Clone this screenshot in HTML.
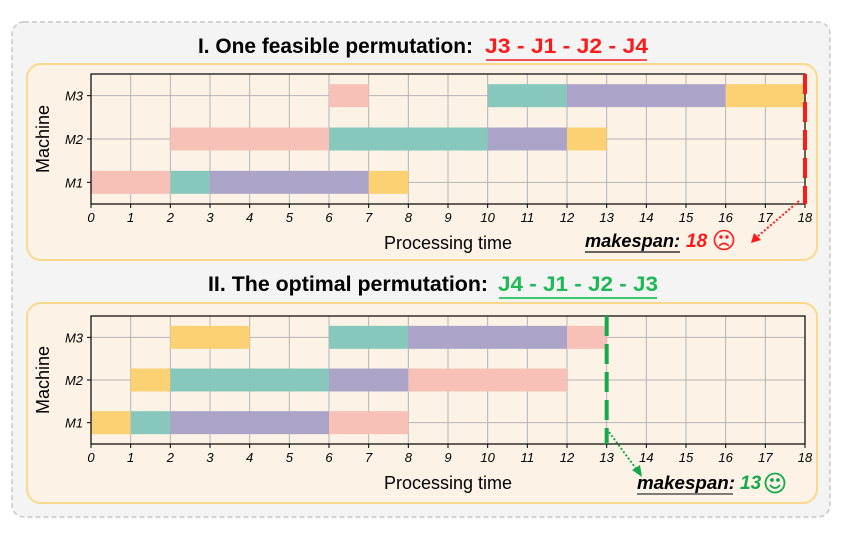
<!DOCTYPE html>
<html><head><meta charset="utf-8"><style>
html,body{margin:0;padding:0;background:#fff;}
svg{display:block;font-family:"Liberation Sans",sans-serif;}
</style></head><body>
<svg id="fig" width="842" height="534" viewBox="0 0 842 534">
<rect x="12" y="22" width="818" height="495" rx="12" fill="#f4f4f4" stroke="#c8c8c8" stroke-width="1.5" stroke-dasharray="5,3"/>
<rect x="27" y="64" width="790" height="196" rx="14" fill="#fcf3e6" stroke="#fbd98c" stroke-width="2"/>
<rect x="27" y="303" width="790" height="200" rx="14" fill="#fcf3e6" stroke="#fbd98c" stroke-width="2"/>
<text x="198" y="53" font-size="21" font-weight="bold" textLength="275" lengthAdjust="spacingAndGlyphs">I. One feasible permutation:</text>
<text x="485" y="53" font-size="21" font-weight="bold" fill="#ff1a1a" textLength="163" lengthAdjust="spacingAndGlyphs">J3  -  J1  -  J2  - J4</text>
<line x1="486" y1="60" x2="647" y2="60" stroke="#f0505a" stroke-width="2"/>
<text x="208" y="291" font-size="21" font-weight="bold" textLength="280" lengthAdjust="spacingAndGlyphs">II. The optimal permutation:</text>
<text x="498" y="291" font-size="21" font-weight="bold" fill="#1db954" textLength="160" lengthAdjust="spacingAndGlyphs">J4  -  J1  -  J2  - J3</text>
<line x1="499" y1="298" x2="657" y2="298" stroke="#3cc870" stroke-width="2"/>
<g id="c1"></g><g id="c2"></g>
<!-- annotations top -->
<line x1="799" y1="201" x2="757" y2="237" stroke="#ff1a1a" stroke-width="2" stroke-dasharray="2,2"/>
<polygon points="751,243 754,233 761,240" fill="#ff1a1a"/>
<text x="585" y="247" font-size="18" font-weight="bold" font-style="italic" textLength="95" lengthAdjust="spacingAndGlyphs">makespan:</text>
<line x1="585" y1="252" x2="680" y2="252" stroke="#333" stroke-width="1.5"/>
<text x="686" y="247" font-size="19" font-weight="bold" font-style="italic" fill="#ff1a1a">18</text>
<g stroke="#ff1a1a" fill="none" stroke-width="1.6"><circle cx="724" cy="240" r="9.5"/><circle cx="721" cy="237" r="0.9" fill="#ff1a1a"/><circle cx="727" cy="237" r="0.9" fill="#ff1a1a"/><path d="M719,246 Q724,241 729,246"/></g>
<!-- annotations bottom -->
<line x1="609" y1="432" x2="637" y2="470" stroke="#16a84a" stroke-width="2" stroke-dasharray="2,2"/>
<polygon points="642,477 632,470 640,465" fill="#16a84a"/>
<text x="637" y="489" font-size="18" font-weight="bold" font-style="italic" textLength="98" lengthAdjust="spacingAndGlyphs">makespan:</text>
<line x1="637" y1="494" x2="733" y2="494" stroke="#555" stroke-width="1.5"/>
<text x="740" y="489" font-size="19" font-weight="bold" font-style="italic" fill="#16a84a">13</text>
<g stroke="#16a84a" fill="none" stroke-width="1.8"><circle cx="775" cy="483" r="9.5"/><circle cx="772" cy="480" r="1" fill="#16a84a"/><circle cx="778" cy="480" r="1" fill="#16a84a"/><path d="M770,485 Q775,491 780,485"/></g>
</svg>
<script>
const machines = ["M1","M2","M3"];
const xTicks = [0,1,2,3,4,5,6,7,8,9,10,11,12,13,14,15,16,17,18];
const jobColors = {J1:"#88c8bc", J2:"#aca4c8", J3:"#f8c1b8", J4:"#fcd173"};
// chart 1: per machine, job / start / duration
const jobs1 = [["J3","J1","J2","J4"],["J3","J1","J2","J4"],["J3","J1","J2","J4"]];
const starts1 = [[0,2,3,7],[2,6,10,12],[6,10,12,16]];
const durs1 = [[2,1,4,1],[4,4,2,1],[1,2,4,2]];
const makespan1 = 18;
// chart 2
const jobs2 = [["J4","J1","J2","J3"],["J4","J1","J2","J3"],["J4","J1","J2","J3"]];
const starts2 = [[0,1,2,6],[1,2,6,8],[2,6,8,12]];
const durs2 = [[1,1,4,2],[1,4,2,4],[2,2,4,1]];
const makespan2 = 13;

const NS="http://www.w3.org/2000/svg";
function mk(tag, attrs, parent){const e=document.createElementNS(NS,tag);for(const k in attrs)e.setAttribute(k,attrs[k]);parent.appendChild(e);return e;}

function drawChart(g, top, bottom, jobs, starts, durs, makespan, lineColor, prefix){
  const L=91, R=805, xMax=18;
  const x = v => L + v*(R-L)/xMax;
  const rowH=(bottom-top)/3.0;
  const yc = i => bottom - rowH*(i+0.5);
  const barH=23;
  mk("rect",{x:L,y:top,width:R-L,height:bottom-top,fill:"#fcf3e6"},g);
  xTicks.forEach(t=>{
    const l=mk("line",{x1:x(t),y1:top,x2:x(t),y2:bottom,stroke:"#b4b4b4","stroke-width":1},g);
    
    
    mk("line",{x1:x(t),y1:bottom,x2:x(t),y2:bottom+4,stroke:"#000","stroke-width":1},g);
    const tx=mk("text",{x:x(t),y:bottom+18,"font-size":13,"font-style":"italic","text-anchor":"middle"},g);
    tx.textContent=t;
    
    
  });
  machines.forEach((m,i)=>{
    const l=mk("line",{x1:L,y1:yc(i),x2:R,y2:yc(i),stroke:"#b4b4b4","stroke-width":1},g);
    
    
    mk("line",{x1:L-4,y1:yc(i),x2:L,y2:yc(i),stroke:"#000"},g);
    const tx=mk("text",{x:L-8,y:yc(i)+5,"font-size":13,"font-style":"italic","text-anchor":"end"},g);
    tx.textContent=m;
    
    
  });
  jobs.forEach((row,i)=>{
    row.forEach((j,k)=>{
      const r=mk("rect",{x:x(starts[i][k]),y:yc(i)-barH/2,width:x(starts[i][k]+durs[i][k])-x(starts[i][k]),height:barH,fill:jobColors[j]},g);
      
      
    });
  });
  mk("rect",{x:L,y:top,width:R-L,height:bottom-top,fill:"none",stroke:"#000","stroke-width":1.2},g);
  const ml=mk("line",{x1:x(makespan),y1:top,x2:x(makespan),y2:bottom,stroke:lineColor,"stroke-width":4,"stroke-dasharray":"20,8"},g);
  
  
  const yl=mk("text",{x:0,y:0,"font-size":18,"text-anchor":"middle",transform:`translate(49,${(top+bottom)/2}) rotate(-90)`},g);
  yl.textContent="Machine";
  
  
  const xl=mk("text",{x:448,y:bottom+45,"font-size":18,"text-anchor":"middle"},g);
  xl.textContent="Processing time";
  
  
}
drawChart(document.getElementById("c1"),74,204,jobs1,starts1,durs1,makespan1,"#ff1a1a","top");
drawChart(document.getElementById("c2"),316,444,jobs2,starts2,durs2,makespan2,"#16a84a","bottom");
</script>
</body></html>
